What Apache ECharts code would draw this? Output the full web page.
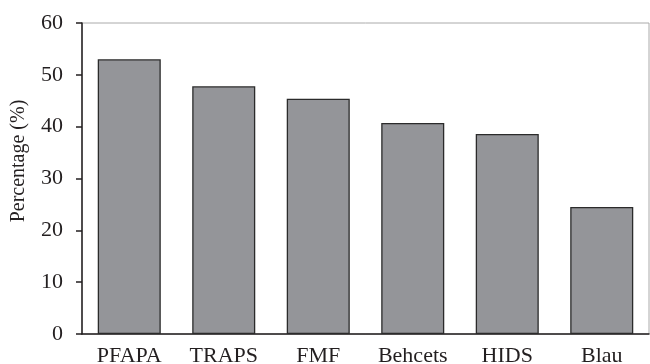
<!DOCTYPE html>
<html>
<head>
<meta charset="utf-8">
<script src="https://cdn.jsdelivr.net/npm/echarts@6/dist/echarts.min.js"></script>
<style>
  html, body { margin: 0; padding: 0; background: #fff; }
  #chart { width: 650px; height: 364px; }
</style>
</head>
<body>
<div id="chart"></div>
<script>
// categories and values
const categories = ['PFAPA', 'TRAPS', 'FMF', 'Behcets', 'HIDS', 'Blau'];
const percentages = [53.0, 47.8, 45.4, 40.7, 38.6, 24.5];
const yTicks = [0, 60, 10]; // min, max, interval

const font = 'Liberation Serif';
const ink = '#231f20';

let myChart = echarts.init(document.getElementById('chart'));
myChart.setOption({
  animation: false,
  grid: {
    left: 82,
    top: 23,
    right: 1,
    bottom: 30,
    outerBoundsMode: 'none',
    show: true,
    borderColor: '#aaa',
    borderWidth: 1
  },
  xAxis: {
    type: 'category',
    data: categories,
    axisLine: { lineStyle: { color: ink, width: 1.5 } },
    axisTick: { length: 6, lineStyle: { color: ink, width: 1.5 } },
    axisLabel: {
      color: ink,
      fontFamily: font,
      fontSize: 22,
      margin: 11
    }
  },
  yAxis: {
    type: 'value',
    min: yTicks[0],
    max: yTicks[1],
    interval: yTicks[2],
    splitLine: { show: false },
    axisLine: { show: true, lineStyle: { color: ink, width: 1.5 } },
    axisTick: { show: true, length: 6, lineStyle: { color: ink, width: 1.5 } },
    axisLabel: {
      color: ink,
      fontFamily: font,
      fontSize: 22,
      margin: 19
    }
  },
  graphic: [{
    type: 'text',
    x: 19,
    y: 161,
    rotation: Math.PI / 2,
    style: {
      text: 'Percentage (%)',
      fill: ink,
      font: '20px "Liberation Serif"',
      align: 'center',
      verticalAlign: 'middle'
    }
  }],
  series: [{
    type: 'bar',
    data: percentages,
    barCategoryGap: '33.3%',
    itemStyle: {
      color: '#949599',
      borderColor: '#2b2b2b',
      borderWidth: 1.3
    }
  }]
});
</script>
</body>
</html>
